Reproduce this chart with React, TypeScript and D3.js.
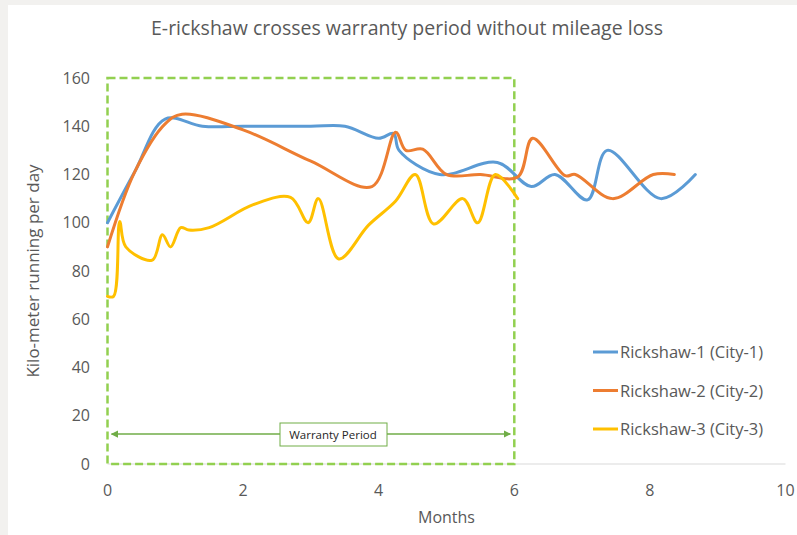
import React from "react";
import * as d3 from "d3";

const xTicks = [0, 2, 4, 6, 8, 10];
const yTicks = [0, 20, 40, 60, 80, 100, 120, 140, 160];

const seriesNames = ["Rickshaw-1 (City-1)", "Rickshaw-2 (City-2)", "Rickshaw-3 (City-3)"];
const seriesColors = ["#5b9bd5", "#ed7d31", "#ffc000"];

const rickshaw1: [number, number][] = [
  [0, 100], [0.4, 121], [0.85, 143], [1.4, 140], [2, 140], [3, 140], [3.5, 140], [4, 135],
  [4.22, 137], [4.3, 130], [4.9, 120], [5.75, 125], [6.25, 115], [6.6, 120],
  [7.08, 109.5], [7.37, 130], [8.16, 110], [8.67, 120],
];
const rickshaw2: [number, number][] = [
  [0, 90], [0.4, 121], [0.85, 141], [1.1, 145], [2, 138.5], [3, 125.5], [3.9, 115], [4.25, 137.5], [4.4, 130],
  [4.65, 130.5], [5, 120], [5.5, 120], [6.05, 119], [6.27, 135], [6.75, 119.5],
  [6.9, 120], [7.45, 110], [8.05, 120], [8.36, 120],
];
const rickshaw3: [number, number][] = [
  [0, 69.5], [0.09, 69.5], [0.18, 100.5], [0.27, 90], [0.66, 84.5], [0.81, 95],
  [0.93, 90], [1.08, 98], [1.2, 97], [1.5, 98], [2.15, 107.5], [2.7, 110.5],
  [2.96, 100], [3.11, 110], [3.41, 85], [3.85, 99], [4.25, 109], [4.54, 120],
  [4.81, 99.5], [5.24, 110], [5.46, 100], [5.72, 120], [6.05, 110],
];
const allSeries = [rickshaw1, rickshaw2, rickshaw3];

const warrantyMonths = 6;
const warrantyLabel = "Warranty Period";
const titleText = "E-rickshaw crosses warranty period without mileage loss";
const xTitle = "Months";
const yTitle = "Kilo-meter running per day";

export default function App() {
  const W = 797, H = 535;
  const x = d3.scaleLinear().domain([0, 10]).range([107.5, 785.5]);
  const y = d3.scaleLinear().domain([0, 160]).range([464, 78]);
  const line = d3
    .line<[number, number]>()
    .x((d) => x(d[0]))
    .y((d) => y(d[1]))
    .curve(d3.curveCatmullRom.alpha(0.5));

  const font = "'Open Sans', sans-serif";
  const textColor = "#595959";
  const bx0 = x(0), bx1 = x(warrantyMonths);
  const arrowY = 434;
  const labelCx = 333;

  return (
    <svg
      width={W}
      height={H}
      style={{ position: "absolute", left: 0, top: 0, display: "block" }}
      fontFamily={font}
    >
      <defs>
        <marker id="arrowEnd" viewBox="0 0 10 10" refX="9" refY="5" markerWidth="5" markerHeight="5" orient="auto">
          <path d="M0,0 L10,5 L0,10 z" fill="#70ad47" />
        </marker>
        <marker id="arrowStart" viewBox="0 0 10 10" refX="1" refY="5" markerWidth="5" markerHeight="5" orient="auto">
          <path d="M10,0 L0,5 L10,10 z" fill="#70ad47" />
        </marker>
      </defs>
      <rect x={0} y={0} width={W} height={H} fill="#f2f1ef" />
      <rect x={8} y={5} width={W - 8} height={H - 5} fill="#ffffff" />

      <text x={407} y={35} textAnchor="middle" fontSize={19.5} fill={textColor}>
        {titleText}
      </text>

      {/* x axis line */}
      <line x1={x(0)} x2={x(10)} y1={y(0)} y2={y(0)} stroke="#d9d9d9" strokeWidth={1} />

      {yTicks.map((t) => (
        <text key={"y" + t} x={90} y={y(t) + 5.5} textAnchor="end" fontSize={16} fill={textColor}>
          {t}
        </text>
      ))}
      {xTicks.map((t) => (
        <text key={"x" + t} x={x(t)} y={496} textAnchor="middle" fontSize={16} fill={textColor}>
          {t}
        </text>
      ))}
      <text x={x(5)} y={523} textAnchor="middle" fontSize={16} fill={textColor}>
        {xTitle}
      </text>
      <text
        transform={`translate(39,${(y(0) + y(160)) / 2}) rotate(-90)`}
        textAnchor="middle"
        fontSize={17}
        fill={textColor}
      >
        {yTitle}
      </text>

      {/* warranty box */}
      <rect
        x={bx0}
        y={y(160)}
        width={bx1 - bx0}
        height={y(0) - y(160)}
        fill="none"
        stroke="#92d050"
        strokeWidth={2.5}
        strokeDasharray="8,4"
      />

      {allSeries.map((s, i) => (
        <path key={i} d={line(s) || ""} fill="none" stroke={seriesColors[i]} strokeWidth={3} strokeLinejoin="round" strokeLinecap="round" />
      ))}

      {/* warranty arrow */}
      <line
        x1={bx0 + 4}
        x2={bx1 - 4}
        y1={arrowY}
        y2={arrowY}
        stroke="#70ad47"
        strokeWidth={1.5}
        markerStart="url(#arrowStart)"
        markerEnd="url(#arrowEnd)"
      />
      <rect x={280} y={423} width={107} height={23} fill="#ffffff" stroke="#70ad47" strokeWidth={1} />
      <text x={labelCx} y={439} textAnchor="middle" fontSize={11.5} fill="#262626">
        {warrantyLabel}
      </text>

      {/* legend */}
      {seriesNames.map((n, i) => (
        <g key={n} transform={`translate(593,${352 + i * 38.5})`}>
          <line x1={0} x2={25} y1={0} y2={0} stroke={seriesColors[i]} strokeWidth={3} />
          <text x={27} y={6} fontSize={16.5} fill={textColor}>
            {n}
          </text>
        </g>
      ))}
    </svg>
  );
}
